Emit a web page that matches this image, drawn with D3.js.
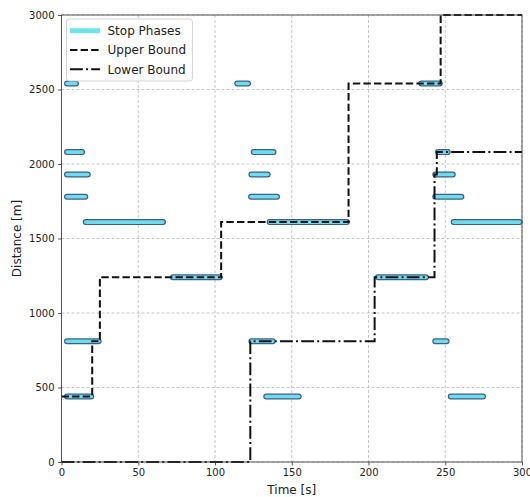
<!DOCTYPE html>
<html>
<head>
<meta charset="utf-8">
<title>Stop phases</title>
<script src="https://cdn.jsdelivr.net/npm/d3@7"></script>
<style>
  body { margin: 0; background: #fff; font-family: "DejaVu Sans", sans-serif; }
  svg text { font-family: "DejaVu Sans", sans-serif; fill: #222; }
</style>
</head>
<body>
<svg id="chart" width="530" height="497"></svg>
<script>
// stop phases: distance [m], start and end time [s]
const stopDist  = [2540, 2080, 1930, 1780, 1610, 810, 440,
                   2540, 2080, 1930, 1780, 1610, 1240, 810, 440,
                   2540, 2080, 1930, 1780, 1610, 1240, 810, 440];
const stopStart = [3.6, 3.6, 3.6, 3.6, 15.8, 3.6, 3.6,
                   114.5, 125.2, 123.7, 123.5, 135.6, 72.6, 123.7, 133.4,
                   234.4, 245.3, 243.5, 243.5, 255.5, 206.2, 243.5, 253.6];
const stopEnd   = [9.4, 13.4, 17.1, 15.5, 66.1, 24.2, 19.4,
                   121.5, 138.1, 134.3, 140.4, 185.9, 103.1, 137.6, 154.5,
                   246.4, 251.6, 254.9, 260.5, 298.5, 237.4, 250.8, 274.6];

// upper bound (dashed)
const upperT = [0, 20, 20, 25, 25, 104, 104, 187, 187, 247, 247, 300];
const upperD = [440, 440, 810, 810, 1240, 1240, 1610, 1610, 2540, 2540, 3000, 3000];

// lower bound (dash-dot)
const lowerT = [0, 123, 123, 204, 204, 243, 243, 244.5, 244.5, 300];
const lowerD = [0, 0, 810, 810, 1240, 1240, 1930, 1930, 2080, 2080];

const xTicks = [0, 50, 100, 150, 200, 250, 300];
const yTicks = [0, 500, 1000, 1500, 2000, 2500, 3000];
const legendLabels = ["Stop Phases", "Upper Bound", "Lower Bound"];

const svg = d3.select("#chart");
const pL = 61.5, pR = 522, pT = 15, pB = 462;

const x = d3.scaleLinear().domain([0, 300]).range([pL, pR]);
const y = d3.scaleLinear().domain([0, 3000]).range([pB, pT]);

// grid
const grid = svg.append("g");
grid.selectAll("line.gx").data(xTicks).enter().append("line")
    .attr("x1", d => x(d)).attr("x2", d => x(d))
    .attr("y1", pT).attr("y2", pB)
    .attr("stroke", "#b8b8b8").attr("stroke-width", 0.8).attr("stroke-dasharray", "3,2");
grid.selectAll("line.gy").data(yTicks).enter().append("line")
    .attr("x1", pL).attr("x2", pR)
    .attr("y1", d => y(d)).attr("y2", d => y(d))
    .attr("stroke", "#b8b8b8").attr("stroke-width", 0.8).attr("stroke-dasharray", "3,2");

// stop phases: outline then fill
const stops = d3.range(stopDist.length).map(i => ({d: stopDist[i], s: stopStart[i], e: stopEnd[i]}));
const sg = svg.append("g");
sg.selectAll("line.edge").data(stops).enter().append("line")
    .attr("x1", d => x(d.s)).attr("x2", d => x(d.e))
    .attr("y1", d => y(d.d)).attr("y2", d => y(d.d))
    .attr("stroke", "#3c5f86").attr("stroke-width", 6).attr("stroke-linecap", "round");
sg.selectAll("line.fill").data(stops).enter().append("line")
    .attr("x1", d => x(d.s)).attr("x2", d => x(d.e))
    .attr("y1", d => y(d.d)).attr("y2", d => y(d.d))
    .attr("stroke", "#6ddcec").attr("stroke-width", 3.6).attr("stroke-linecap", "round");

// bounds
const line = d3.line().x(d => x(d[0])).y(d => y(d[1]));
svg.append("path")
    .attr("d", line(upperT.map((t, i) => [t, upperD[i]])))
    .attr("fill", "none").attr("stroke", "#111").attr("stroke-width", 2)
    .attr("stroke-dasharray", "7.4,3.2");
svg.append("path")
    .attr("d", line(lowerT.map((t, i) => [t, lowerD[i]])))
    .attr("fill", "none").attr("stroke", "#111").attr("stroke-width", 2)
    .attr("stroke-dasharray", "12.8,3.2,2,3.2");

// frame
svg.append("rect").attr("x", pL).attr("y", pT)
    .attr("width", pR - pL).attr("height", pB - pT)
    .attr("fill", "none").attr("stroke", "#444").attr("stroke-width", 0.9);

// axes
const xAxis = svg.append("g").attr("transform", `translate(0,${pB})`)
    .call(d3.axisBottom(x).tickValues(xTicks).tickSize(3.5).tickPadding(3.5).tickFormat(d3.format("d")));
const yAxis = svg.append("g").attr("transform", `translate(${pL},0)`)
    .call(d3.axisLeft(y).tickValues(yTicks).tickSize(3.5).tickPadding(3.5).tickFormat(d3.format("d")));
[xAxis, yAxis].forEach(a => {
    a.select(".domain").remove();
    a.selectAll(".tick line").attr("stroke", "#333").attr("stroke-width", 0.8);
    a.selectAll(".tick text").attr("font-size", 10).style("fill", "#222");
});

svg.append("text").attr("x", (pL + pR) / 2).attr("y", 494)
    .attr("text-anchor", "middle").attr("font-size", 12).text("Time [s]");
svg.append("text").attr("transform", `translate(21,${(pT + pB) / 2}) rotate(-90)`)
    .attr("text-anchor", "middle").attr("font-size", 12).text("Distance [m]");

// legend
const lg = svg.append("g");
lg.append("rect").attr("x", 66.5).attr("y", 19).attr("width", 126).attr("height", 62)
    .attr("rx", 3).attr("fill", "#fff").attr("fill-opacity", 0.85)
    .attr("stroke", "#cfcfcf").attr("stroke-width", 0.9);
const rowY = d3.scalePoint().domain(legendLabels).range([30.7, 69.3]);
lg.append("line").attr("x1", 70).attr("x2", 100)
    .attr("y1", rowY(legendLabels[0])).attr("y2", rowY(legendLabels[0]))
    .attr("stroke", "#6fe2ee").attr("stroke-width", 5);
lg.append("line").attr("x1", 70).attr("x2", 100)
    .attr("y1", rowY(legendLabels[1])).attr("y2", rowY(legendLabels[1]))
    .attr("stroke", "#111").attr("stroke-width", 2).attr("stroke-dasharray", "7.4,3.2");
lg.append("line").attr("x1", 70).attr("x2", 100)
    .attr("y1", rowY(legendLabels[2])).attr("y2", rowY(legendLabels[2]))
    .attr("stroke", "#111").attr("stroke-width", 2).attr("stroke-dasharray", "12.8,3.2,2,3.2");
lg.selectAll("text").data(legendLabels).enter().append("text")
    .attr("x", 107.5).attr("y", d => rowY(d)).attr("dy", "0.36em")
    .attr("font-size", 12).text(d => d);
</script>
</body>
</html>
